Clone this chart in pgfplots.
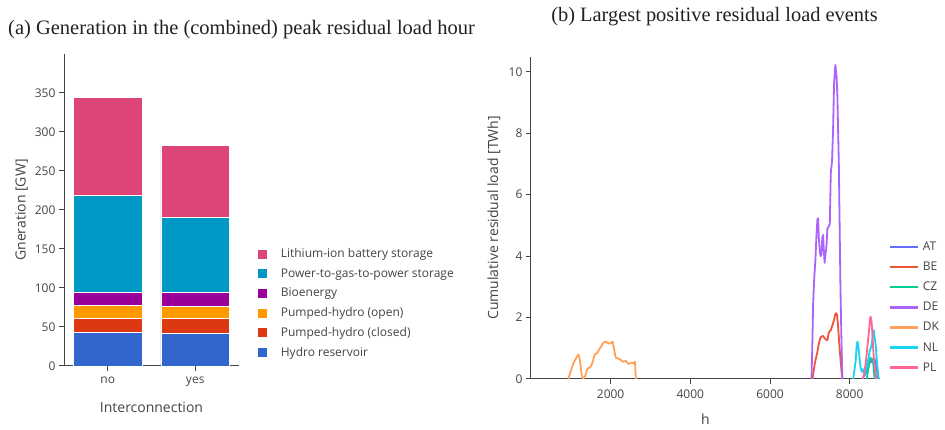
\documentclass[border=0pt]{standalone}
\usepackage{pgfplots}
\pgfplotsset{compat=1.18}
\usepackage{fontspec}
\setmainfont{Open Sans}
\newfontfamily\titlefont{Liberation Serif}
\definecolor{hydro}{HTML}{3366CC}
\definecolor{phc}{HTML}{DC3912}
\definecolor{pho}{HTML}{FF9900}
\definecolor{bio}{HTML}{990099}
\definecolor{ptg}{HTML}{0099C6}
\definecolor{li}{HTML}{DD4477}
\definecolor{cAT}{HTML}{636EFA}
\definecolor{cBE}{HTML}{EF553B}
\definecolor{cCZ}{HTML}{00CC96}
\definecolor{cDE}{HTML}{AB63FA}
\definecolor{cDK}{HTML}{FFA15A}
\definecolor{cNL}{HTML}{19D3F3}
\definecolor{cPL}{HTML}{FF6692}
\definecolor{axgray}{HTML}{444444}
\pgfplotsset{
  common/.style={
    scale only axis,
    axis x line*=bottom, axis y line*=left,
    axis line style={axgray, line width=1pt, -},
    tick style={axgray, line width=1pt},
    tick align=outside, major tick length=5pt,
    ticklabel style={font=\fontsize{12}{14}\selectfont, text=axgray},
    xticklabel style={yshift=-2pt},
    /pgf/number format/assume math mode=true,
    /pgf/number format/set thousands separator={},
    scaled ticks=false,
  },
  ln/.style={draw=#1, line width=1.8pt, line join=round, no marks,
    legend image code/.code={\path[fill=#1, draw=none] (0pt,-1.15pt) rectangle (28pt,1.15pt);}},
}
\begin{document}
\begin{tikzpicture}
\path (0pt,0pt) rectangle (945pt,430pt);
\node[anchor=base west, inner sep=0pt, font=\titlefont\fontsize{20.5}{22}\selectfont, text=black!87] at (8pt,395pt) {(a) Generation in the (combined) peak residual load hour};
\node[anchor=base, inner sep=0pt, font=\titlefont\fontsize{20.4}{22}\selectfont, text=black!87] at (714.5pt,408pt) {(b) Largest positive residual load events};

\begin{axis}[common,
  at={(64pt,64pt)}, anchor=south west, width=175pt, height=312pt,
  ybar stacked, bar width=68.6pt,
  xmin=-0.5, xmax=1.5, ymin=0, ymax=400,
  xtick={0,1}, xticklabels={no,yes},
  ytick={0,50,...,350},
  xlabel={Interconnection}, ylabel={Gneration [GW]},
  every axis x label/.style={at={(axis description cs:0.5,-0.150)}, anchor=base, font=\fontsize{14}{16}\selectfont, text=axgray},
  every axis y label/.style={at={(axis description cs:-0.243,0.5)}, anchor=center, rotate=90, font=\fontsize{14}{16}\selectfont, text=axgray},
  reverse legend,
  legend cell align=left,
  legend style={draw=none, fill=none, at={(axis description cs:1.086,0.3896)}, anchor=north west,
    font=\fontsize{12}{14}\selectfont, text=axgray, row sep=5.3pt,
    /tikz/every odd column/.append style={column sep=11pt}},
  legend image code/.code={\fill[#1] (0pt,-5pt) rectangle (10pt,5pt);},
]
\addplot[fill=hydro, draw=white, line width=0.6pt] coordinates {(0,42.6) (1,41.8)};
\addlegendentry{Hydro reservoir}
\addplot[fill=phc, draw=white, line width=0.6pt] coordinates {(0,18.4) (1,19.2)};
\addlegendentry{Pumped-hydro (closed)}
\addplot[fill=pho, draw=white, line width=0.6pt] coordinates {(0,16.2) (1,14.9)};
\addlegendentry{Pumped-hydro (open)}
\addplot[fill=bio, draw=white, line width=0.6pt] coordinates {(0,17.4) (1,18.3)};
\addlegendentry{Bioenergy}
\addplot[fill=ptg, draw=white, line width=0.6pt] coordinates {(0,124.1) (1,95.9)};
\addlegendentry{Power-to-gas-to-power storage}
\addplot[fill=li, draw=white, line width=0.6pt] coordinates {(0,125.7) (1,92.5)};
\addlegendentry{Lithium-ion battery storage}
\end{axis}

\begin{axis}[common,
  at={(530.9pt,51pt)}, anchor=south west, width=349.1pt, height=322.3pt,
  xmin=0, xmax=8760, ymin=0, ymax=10.49,
  xtick={2000,4000,6000,8000}, ytick={0,2,...,10},
  xlabel={h}, ylabel={Cumulative residual load [TWh]},
  every axis x label/.style={at={(axis description cs:0.5,-0.1427)}, anchor=base, font=\fontsize{14}{16}\selectfont, text=axgray},
  every axis y label/.style={at={(axis description cs:-0.1057,0.5)}, anchor=center, rotate=90, font=\fontsize{14}{16}\selectfont, text=axgray},
  legend cell align=left,
  legend style={draw=none, fill=none, inner sep=0pt, at={(axis description cs:1.0275,0.432)}, anchor=north west,
    font=\fontsize{12}{14}\selectfont, text=axgray, row sep=6pt,
    /tikz/every odd column/.append style={column sep=3pt}},
]
\addplot[ln=cAT] coordinates {(8319,0) (8350,0.08) (8377,0.13) (8410,0.2) (8436,0.31) (8470,0.4) (8503,0.55) (8540,0.57) (8570,0.55) (8600,0.62) (8629,0.64) (8660,0.5) (8690,0.25) (8712,0)};
\addlegendentry{AT}
\addplot[ln=cBE] coordinates {(7066,0) (7124,0.51) (7182,0.84) (7232,1.19) (7270,1.36) (7291,1.38) (7332,1.40) (7370,1.33) (7399,1.29) (7441,1.26) (7470,1.49) (7500,1.56) (7525,1.59) (7566,1.75) (7607,1.92) (7640,2.12) (7660,2.14) (7683,2.09) (7708,1.70) (7750,0.94) (7791,0.29) (7816,0)};
\addlegendentry{BE}
\addplot[ln=cCZ] coordinates {(8430,0) (8460,0.3) (8490,0.5) (8520,0.70) (8545,0.62) (8570,0.65) (8590,0.5) (8610,0.25) (8625,0)};
\addlegendentry{CZ}
\addplot[ln=cDE] coordinates {(7041,0) (7060,1.0) (7082,2.46) (7107,3.22) (7140,3.9) (7166,4.7) (7190,5.2) (7207,5.23) (7225,4.6) (7249,4.15) (7270,4.0) (7291,4.05) (7312,4.6) (7332,4.69) (7350,4.2) (7370,3.78) (7395,4.1) (7416,4.3) (7440,4.9) (7470,4.95) (7500,5.05) (7525,6.7) (7557,7.1) (7582,8.1) (7607,9.6) (7630,10.1) (7642,10.22) (7655,10.0) (7670,9.85) (7691,9.2) (7710,8.0) (7727,7.0) (7745,5.2) (7766,3.1) (7790,1.4) (7816,0)};
\addlegendentry{DE}
\addplot[ln=cDK] coordinates {(938,0) (1064,0.51) (1131,0.67) (1189,0.80) (1231,0.62) (1273,0.13) (1314,0) (1357,0.08) (1424,0.35) (1482,0.37) (1524,0.46) (1607,0.81) (1666,0.85) (1733,1.0) (1816,1.18) (1883,1.22) (1941,1.16) (2001,1.16) (2051,1.22) (2092,0.94) (2126,0.70) (2234,0.64) (2318,0.56) (2385,0.59) (2443,0.49) (2527,0.53) (2568,0.51) (2610,0.56) (2635,0)};
\addlegendentry{DK}
\addplot[ln=cNL] coordinates {(8085,0) (8120,0.3) (8152,0.62) (8175,1.1) (8190,1.21) (8205,1.17) (8230,0.9) (8252,0.6) (8277,0.35) (8302,0.23) (8320,0.3) (8335,0.32) (8355,0.2) (8377,0.16) (8420,0.35) (8461,0.62) (8500,0.9) (8545,1.08) (8580,1.4) (8603,1.59) (8630,1.3) (8653,1.1) (8680,0.6) (8695,0.40) (8728,0)};
\addlegendentry{NL}
\addplot[ln=cPL] coordinates {(8335,0) (8370,0.25) (8402,0.51) (8444,1.05) (8486,1.59) (8505,1.9) (8520,2.03) (8540,1.95) (8553,1.8) (8586,1.05) (8610,0.6) (8628,0.40) (8670,0)};
\addlegendentry{PL}
\end{axis}
\end{tikzpicture}
\end{document}
